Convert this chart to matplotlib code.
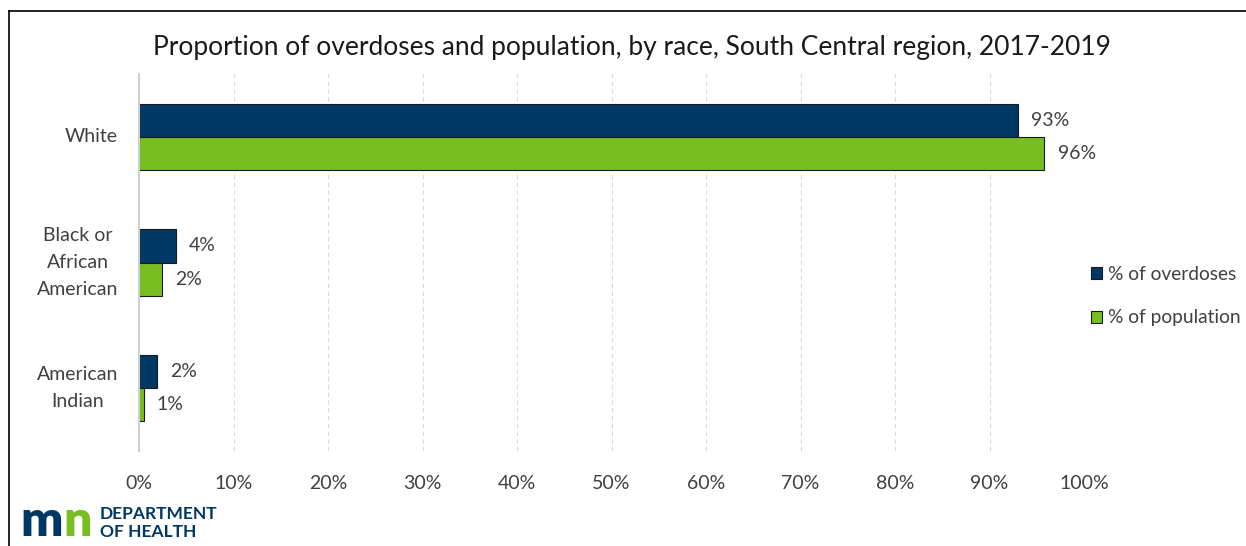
import matplotlib
matplotlib.use("Agg")
import matplotlib.pyplot as plt
import numpy as np
from matplotlib.lines import Line2D
from matplotlib.patches import Patch

categories = ["White", "Black or\nAfrican\nAmerican", "American\nIndian"]
overdoses = [93.0, 3.9, 1.9]
population = [95.8, 2.4, 0.5]
overdose_labels = ["93%", "4%", "2%"]
population_labels = ["96%", "2%", "1%"]
xticks = [0, 10, 20, 30, 40, 50, 60, 70, 80, 90, 100]
series_names = ["% of overdoses", "% of population"]

navy = "#003865"
green = "#78BE21"
text_c = "#404040"

plt.rcParams['font.family'] = ['Lato', 'DejaVu Sans']

fig = plt.figure(figsize=(12.46, 5.46), dpi=100)
W, H = 1246, 546
ax = fig.add_axes([139 / W, 1 - 451 / H, (1084 - 139) / W, (451 - 74) / H])

y = np.arange(len(categories))
h = 0.265
ax.barh(y - h / 2, overdoses, height=h, color=navy, edgecolor="#1a1a1a", linewidth=0.8, zorder=3)
ax.barh(y + h / 2, population, height=h, color=green, edgecolor="#1a1a1a", linewidth=0.8, zorder=3)

for i in range(len(categories)):
    ax.text(overdoses[i] + 1.4, y[i] - h / 2, overdose_labels[i], va="center", ha="left",
            fontsize=14, color=text_c)
    ax.text(population[i] + 1.4, y[i] + h / 2, population_labels[i], va="center", ha="left",
            fontsize=14, color=text_c)

ax.set_xlim(0, 100)
ax.set_ylim(2.5, -0.5)
ax.set_xticks(xticks)
ax.set_xticklabels([f"{t}%" for t in xticks], fontsize=14, color=text_c)
ax.set_yticks(y)
ax.set_yticklabels(categories, fontsize=14, color=text_c, ha="right", va="center",
                   multialignment="center", linespacing=1.7)
ax.tick_params(axis="y", length=0, pad=15)
ax.tick_params(axis="x", length=0, pad=17)
ax.grid(axis="x", color="#d9d9d9", linestyle=(0, (4, 3)), linewidth=0.8, zorder=0)
for s in ["top", "right", "bottom"]:
    ax.spines[s].set_visible(False)
ax.spines["left"].set_color("#d0d0d0")
ax.spines["left"].set_linewidth(1.5)
ax.spines["left"].set_zorder(4)

fig.text(632 / W, 1 - 47 / H, "Proportion of overdoses and population, by race, South Central region, 2017-2019",
         ha="center", va="center", fontsize=19, color="#1a1a1a")

handles = [Patch(facecolor=navy, edgecolor="#1a1a1a", linewidth=0.8),
           Patch(facecolor=green, edgecolor="#1a1a1a", linewidth=0.8)]
leg = fig.legend(handles, series_names, loc="center left", bbox_to_anchor=(1087 / W, 1 - 296 / H),
                 frameon=False, fontsize=13.8, handlelength=0.6, handleheight=0.6,
                 handletextpad=0.3, labelspacing=1.4, labelcolor=text_c, borderaxespad=0,
                 borderpad=0.2)

# frame border
fig.add_artist(Line2D([9 / W, 9 / W], [0, 1 - 11 / H], color="black", linewidth=1.2, transform=fig.transFigure))
fig.add_artist(Line2D([9 / W, 1], [1 - 11 / H, 1 - 11 / H], color="black", linewidth=1.2, transform=fig.transFigure))

# logo
fig.text(20 / W, 1 - 521 / H, "m", fontsize=36, fontweight="heavy", color=navy, ha="left", va="center")
fig.text(63 / W, 1 - 521 / H, "n", fontsize=36, fontweight="heavy", color=green, ha="left", va="center")
fig.text(100 / W, 1 - 514 / H, "DEPARTMENT", fontsize=12.5, fontweight="bold",
         color=navy, ha="left", va="center")
fig.text(100 / W, 1 - 532 / H, "OF HEALTH", fontsize=12.5, fontweight="bold",
         color=navy, ha="left", va="center")

fig.savefig("out.png", dpi=100, facecolor="white")
